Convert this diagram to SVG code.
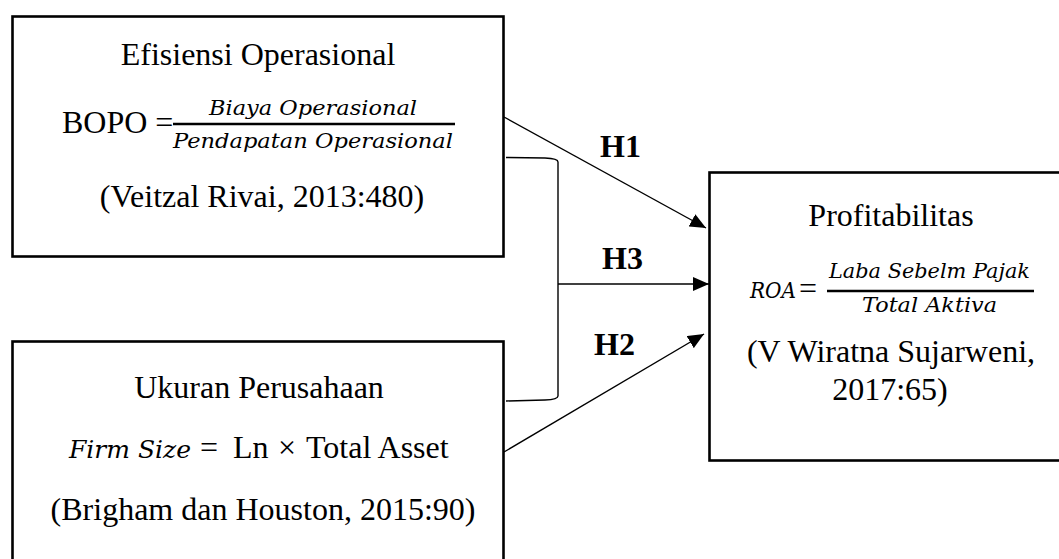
<svg xmlns="http://www.w3.org/2000/svg" width="1059" height="559" viewBox="0 0 1059 559">
<style>
.box{fill:#fff;stroke:#000;stroke-width:2.6}
.t{font-family:"Liberation Serif","Times New Roman",serif;font-size:32px;fill:#000}
.m{font-family:"DejaVu Serif",serif;font-style:italic;fill:#000}
.lbl{font-family:"Liberation Serif","Times New Roman",serif;font-size:32px;font-weight:bold;fill:#000}
.con{fill:none;stroke:#000;stroke-width:1.4}
.bar{stroke:#000;stroke-width:2.4}
</style>
<defs>
<marker id="arr" viewBox="0 0 16 14" refX="16" refY="7" markerWidth="16" markerHeight="14" markerUnits="userSpaceOnUse" orient="auto">
<path d="M0,0 L16,7 L0,14 z" fill="#000"/>
</marker>
</defs>
<rect width="1059" height="559" fill="#fff"/>
<g id="node-efisiensi">
<rect class="box" x="12.5" y="16.5" width="491" height="240"/>
<text class="t" x="258" y="65" text-anchor="middle">Efisiensi Operasional</text>
<text class="t" x="62" y="133">BOPO =</text>
<line class="bar" x1="173" y1="124" x2="455" y2="124"/>
<text class="m" x="209" y="115" font-size="20" textLength="208" lengthAdjust="spacingAndGlyphs">Biaya Operasional</text>
<text class="m" x="173" y="148" font-size="20" textLength="280" lengthAdjust="spacingAndGlyphs">Pendapatan Operasional</text>
<text class="t" x="262" y="207" text-anchor="middle">(Veitzal Rivai, 2013:480)</text>
</g>
<g id="node-ukuran">
<rect class="box" x="12.5" y="341.5" width="491" height="300"/>
<text class="t" x="259" y="398" text-anchor="middle">Ukuran Perusahaan</text>
<text class="m" x="69" y="458" font-size="25" textLength="122" lengthAdjust="spacingAndGlyphs">Firm Size</text>
<text class="t" x="200" y="458">=</text>
<text class="t" x="233" y="458">Ln</text>
<text class="t" x="278" y="458">×</text>
<text class="t" x="306" y="458">Total Asset</text>
<text class="t" x="263" y="520" text-anchor="middle">(Brigham dan Houston, 2015:90)</text>
</g>
<g id="node-profitabilitas">
<rect class="box" x="709.5" y="172.5" width="400" height="288"/>
<text class="t" x="891" y="226" text-anchor="middle">Profitabilitas</text>
<text class="m" x="750" y="298" font-size="22" textLength="46" lengthAdjust="spacingAndGlyphs">ROA</text>
<text class="t" x="799" y="299" font-size="30">=</text>
<line class="bar" x1="827" y1="291" x2="1034" y2="291"/>
<text class="m" x="829" y="278" font-size="21" textLength="201" lengthAdjust="spacingAndGlyphs">Laba Sebelm Pajak</text>
<text class="m" x="862" y="312" font-size="21" textLength="135" lengthAdjust="spacingAndGlyphs">Total Aktiva</text>
<text class="t" x="891" y="362" text-anchor="middle">(V Wiratna Sujarweni,</text>
<text class="t" x="890" y="400" text-anchor="middle">2017:65)</text>
</g>
<g id="connectors">
<line class="con" x1="504" y1="117" x2="706" y2="228" marker-end="url(#arr)"/>
<line class="con" x1="504" y1="452" x2="704" y2="334" marker-end="url(#arr)"/>
<line class="con" x1="558" y1="284" x2="709" y2="284" marker-end="url(#arr)"/>
<path class="con" d="M506 157.5 L545 158 Q558 158.5 558 162 L558 396 Q558 399.5 545 400 L506 401"/>
</g>
<g id="labels">
<text class="lbl" x="600" y="157">H1</text>
<text class="lbl" x="602" y="269">H3</text>
<text class="lbl" x="594" y="355">H2</text>
</g>
</svg>
